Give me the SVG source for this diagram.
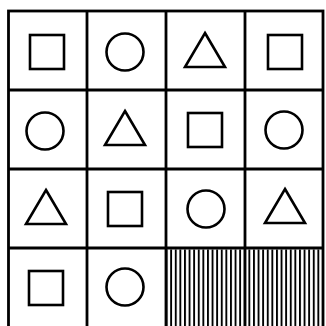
<svg xmlns="http://www.w3.org/2000/svg" width="326" height="326" viewBox="0 0 326 326">
<defs>
<style>
.grid{fill:none;stroke:#000;stroke-width:2.8}
.shape{fill:none;stroke:#000;stroke-width:2.6;stroke-linejoin:miter}
</style>
<pattern id="hatch" patternUnits="userSpaceOnUse" x="0" y="0" width="4.6" height="10">
<rect x="0" y="0" width="1.9" height="10" fill="#000"/>
</pattern>
<rect id="sq" x="-17" y="-17" width="34" height="34"/>
<circle id="ci" cx="0" cy="0" r="18.5"/>
<polygon id="tr" points="0,-18 20,16 -20,16"/>
</defs>
<rect width="326" height="326" fill="#fff"/>
<g id="hatched">
<rect x="167" y="249.5" width="77" height="80" fill="url(#hatch)"/>
<rect x="246" y="249.5" width="76" height="80" fill="url(#hatch)"/>
</g>
<g id="grid" class="grid">
<rect x="8.5" y="11" width="314.5" height="330"/>
<line x1="87" y1="11" x2="87" y2="330"/>
<line x1="166" y1="11" x2="166" y2="330"/>
<line x1="245" y1="11" x2="245" y2="330"/>
<line x1="8.5" y1="90" x2="323" y2="90"/>
<line x1="8.5" y1="169" x2="323" y2="169"/>
<line x1="8.5" y1="248" x2="323" y2="248"/>
</g>
<g class="shape">
<g id="r0c0"><use href="#sq" x="47" y="52"/></g>
<g id="r0c1"><use href="#ci" x="125" y="52"/></g>
<g id="r0c2"><use href="#tr" x="205" y="51"/></g>
<g id="r0c3"><use href="#sq" x="285" y="52"/></g>
<g id="r1c0"><use href="#ci" x="45" y="131"/></g>
<g id="r1c1"><use href="#tr" x="125" y="129"/></g>
<g id="r1c2"><use href="#sq" x="205" y="130"/></g>
<g id="r1c3"><use href="#ci" x="284" y="130"/></g>
<g id="r2c0"><use href="#tr" x="46" y="208"/></g>
<g id="r2c1"><use href="#sq" x="125" y="209"/></g>
<g id="r2c2"><use href="#ci" x="206" y="209"/></g>
<g id="r2c3"><use href="#tr" x="285" y="207"/></g>
<g id="r3c0"><use href="#sq" x="46" y="288"/></g>
<g id="r3c1"><use href="#ci" x="125" y="287"/></g>
</g>
</svg>
